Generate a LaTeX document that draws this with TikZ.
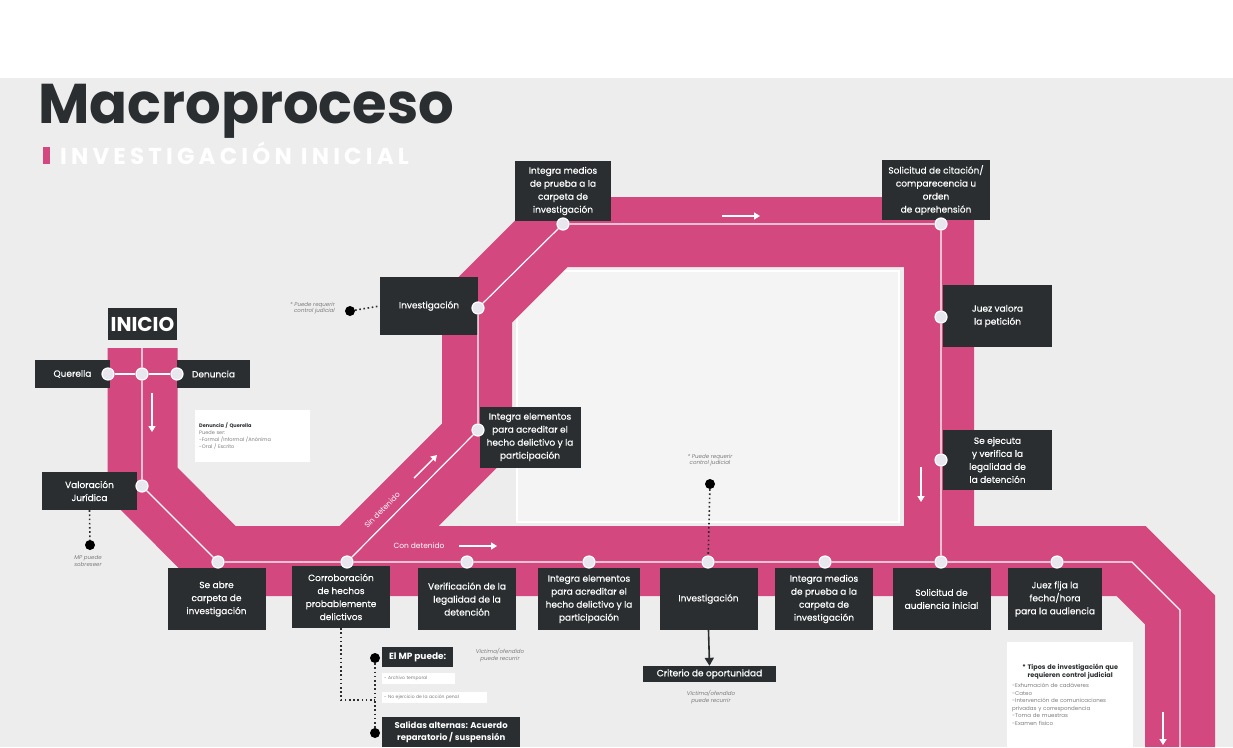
\documentclass[tikz,border=0pt]{standalone}
\usepackage{fontspec}
\setmainfont{Poppins}
\usetikzlibrary{arrows.meta}
\definecolor{rosa}{RGB}{212,72,128}
\definecolor{oscuro}{RGB}{42,46,48}
\definecolor{fondo}{RGB}{237,237,237}
\definecolor{panel}{RGB}{244,244,244}
\definecolor{punto}{RGB}{232,230,238}
\definecolor{nota}{RGB}{125,125,125}
\tikzset{
  banda/.style={draw=rosa, line width=70pt, line join=miter},
  ruta/.style={draw=white, line width=1.2pt},
  caja/.style={fill=oscuro, text=white, align=center, inner sep=1pt, font=\fontsize{9}{13}\selectfont\addfontfeature{FakeBold=0.5}},
  fila/.style={caja, minimum width=98pt, minimum height=62pt},
  parada/.style={circle, fill=punto, draw=white, line width=1.2pt, minimum size=12pt, inner sep=0pt},
  negro/.style={circle, fill=black, minimum size=10pt, inner sep=0pt},
  punteado/.style={draw=oscuro, line width=1.6pt, dash pattern=on 1.6pt off 2.6pt},
  flecha/.style={draw=white, line width=1.4pt, -{Triangle[width=7pt,length=6pt]}},
  guion/.style={font=\fontsize{5.5}{6.5}\selectfont\itshape, text=nota, inner sep=0pt},
  opcion/.style={fill=white, text=nota, font=\fontsize{4.5}{5}\selectfont, inner sep=2pt, align=left, minimum height=11pt, anchor=north west},
}
\begin{document}
\begin{tikzpicture}[x=1pt,y=-1pt]
\useasboundingbox (0,0) rectangle (1233,747);
\fill[white] (0,0) rectangle (1233,78);
\fill[fondo] (0,78) rectangle (1233,747);
% encabezado
\node[anchor=base west, inner sep=0pt, text=oscuro, font=\fontsize{56}{56}\selectfont\bfseries] (titulo) at (38,123) {Macroproceso};
\fill[rosa] (43,147) rectangle (50,164);
\node[anchor=base west, inner sep=0pt, text=white, font=\fontsize{23}{23}\selectfont\bfseries\addfontfeature{LetterSpace=18}] (subtitulo) at (60,164) {INVESTIGACIÓN INICIAL};
% recuadro interior
\filldraw[fill=panel, draw=white, line width=2.5pt] (517,271) rectangle (899,522);
% bandas
\draw[banda] (142.5,348) -- (142.5,482) -- (221,561) -- (1131,561) -- (1180,610) -- (1180,747);
\draw[banda] (354,561) -- (477,438) -- (477,308) -- (553,232) -- (939,232) -- (939,561);
% cajas de la izquierda
\node[caja, minimum width=69pt, minimum height=32pt, font=\fontsize{20}{20}\selectfont\bfseries] (inicio) at (142.5,324) {INICIO};
\node[caja, minimum width=75pt, minimum height=28pt] (querella) at (72.5,374) {Querella};
\node[caja, minimum width=73pt, minimum height=28pt] (denuncia) at (213.5,374) {Denuncia};
\node[caja, minimum width=95pt, minimum height=38pt] (valoracion) at (89.5,491) {Valoración\\Jurídica};
% fila inferior
\node[fila] (abre) at (216.5,599) {Se abre\\carpeta de\\investigación};
\node[fila] (corrob) at (341,597) {Corroboración\\de hechos\\probablemente\\delictivos};
\node[fila] (verif) at (467,599) {Verificación de la\\legalidad de la\\detención};
\node[fila, minimum width=102pt] (integraA) at (589,599) {Integra elementos\\para acreditar el\\hecho delictivo y la\\participación};
\node[fila] (investA) at (708.5,599) {Investigación};
\node[fila] (mediosA) at (824,599) {Integra medios\\de prueba a la\\carpeta de\\investigación};
\node[fila] (solicitud) at (941.5,599) {Solicitud de\\audiencia inicial};
\node[fila, minimum width=94pt] (juezfija) at (1055,599) {Juez fija la\\fecha/hora\\para la audiencia};
% lazo superior
\node[caja, minimum width=96pt, minimum height=60pt] (mediosB) at (563,191) {Integra medios\\de prueba a la\\carpeta de\\investigación};
\node[caja, minimum width=98pt, minimum height=58pt] (investB) at (429,306) {Investigación};
\node[caja, minimum width=101pt, minimum height=61pt] (integraB) at (530,437) {Integra elementos\\para acreditar el\\hecho delictivo y la\\participación};
\node[caja, minimum width=108pt, minimum height=60pt] (citacion) at (936,190) {Solicitud de citación/\\comparecencia u\\orden\\de aprehensión};
\node[caja, minimum width=109pt, minimum height=62pt] (juezvalora) at (997.5,316) {Juez valora\\la petición};
\node[caja, minimum width=109pt, minimum height=60pt] (ejecuta) at (997.5,460) {Se ejecuta\\y verifica la\\legalidad de\\la detención};
% salidas
\node[caja, minimum width=133pt, minimum height=16pt] (criterio) at (709.5,674) {Criterio de oportunidad};
\node[caja, anchor=north west, minimum width=71pt, minimum height=20pt, font=\fontsize{9}{12}\selectfont\bfseries] (mp) at (382,647) {El MP puede:};
\node[opcion, text width=69pt] (archivo) at (382,673) {- Archivo temporal};
\node[opcion, text width=101pt] (noejercicio) at (382,692) {- No ejercicio de la acción penal};
\node[caja, anchor=north west, minimum width=138pt, minimum height=30pt, font=\fontsize{8.5}{12.5}\selectfont\bfseries] (salidas) at (382,717) {Salidas alternas: Acuerdo\\reparatorio / suspensión};
% paradas
\node[parada] (dQue) at (108,374) {};
\node[parada] (dIni) at (142,374) {};
\node[parada] (dDen) at (177,374) {};
\node[parada] (dVal) at (142,486) {};
\node[parada] (dAbre) at (218,562) {};
\node[parada] (dCorr) at (347,562) {};
\node[parada] (dVer) at (467,562) {};
\node[parada] (dIntA) at (589,562) {};
\node[parada] (dInvA) at (708,562) {};
\node[parada] (dMedA) at (825,562) {};
\node[parada] (dSol) at (941,562) {};
\node[parada] (dJuez) at (1057,562) {};
\node[parada] (dIntB) at (478,430) {};
\node[parada] (dInvB) at (478,308) {};
\node[parada] (dMedB) at (563,224) {};
\node[parada] (dCit) at (941,224) {};
\node[parada] (dJval) at (941,317) {};
\node[parada] (dEje) at (941,460) {};
\coordinate (rutaIni) at (142,348);
\coordinate (codoA) at (1132,562);
\coordinate (codoB) at (1180,610);
\coordinate (rutaFin) at (1180,747);
% rutas blancas
\draw[ruta] (rutaIni) -- (dIni) -- (dVal) -- (dAbre) -- (dCorr) -- (dVer) -- (dIntA) -- (dInvA) -- (dMedA) -- (dSol) -- (dJuez) -- (codoA) -- (codoB) -- (rutaFin);
\draw[ruta] (dQue) -- (dIni) -- (dDen);
\draw[ruta] (dCorr) -- (dIntB) -- (dInvB) -- (dMedB) -- (dCit) -- (dJval) -- (dEje) -- (dSol);
% flechas de sentido
\draw[flecha] (152,393) -- (152,432);
\draw[flecha] (414,478) -- (437,455);
\draw[flecha] (459,546) -- (497,546);
\draw[flecha] (722,216) -- (760,216);
\draw[flecha] (921,467) -- (921,502);
\draw[flecha] (1163,712) -- (1163,745);
\node[rotate=45, text=white, inner sep=0pt, font=\fontsize{7.5}{8}\selectfont] (sindet) at (382,510) {Sin detenido};
\node[text=white, inner sep=0pt, font=\fontsize{7.5}{8}\selectfont] (condet) at (419,546) {Con detenido};
% notas
\node[fill=white, anchor=north west, text width=107pt, minimum height=52pt, inner sep=4pt, align=left, text=nota, font=\fontsize{5}{7}\selectfont] (notaDQ) at (195,410) {{\color{oscuro}\bfseries Denuncia / Querella}\\Puede ser:\\-Formal /Informal /Anónima\\-Oral / Escrito};
\node[fill=white, anchor=north west, text width=116pt, minimum height=105pt, inner sep=5pt, align=left, text=nota, font=\fontsize{5.5}{7.5}\selectfont] (notaTipos) at (1007,642) {{\centering\color{oscuro}\bfseries\fontsize{6.5}{8}\selectfont * Tipos de investigación que\\requieren control judicial\par}\vspace{3pt}-Exhumación de cadáveres\\-Cateo\\-Intervención de comunicaciones\\privadas y correspondencia\\-Toma de muestras\\-Examen físico};
\node[guion, align=right, anchor=east] (reqA) at (335,308) {* Puede requerir\\control judicial};
\node[guion, align=center] (reqB) at (710,460) {* Puede requerir\\control judicial};
\node[guion, align=center] (sobre) at (88,561) {MP puede\\sobreseer};
\node[guion, align=center] (victA) at (500,655) {Víctima/ofendido\\puede recurrir};
\node[guion, align=center] (victB) at (711,697) {Víctima/ofendido\\puede recurrir};
% puntos negros y punteados
\node[negro] (bVal) at (90,545) {};
\node[negro] (bInv) at (350,311) {};
\node[negro] (bInvA) at (710,484) {};
\node[negro] (bMP) at (375,658) {};
\node[negro] (bSal) at (375,733) {};
\coordinate (codoC) at (341,700);
\coordinate (codoD) at (375,700);
\draw[punteado] (valoracion.south) -- (bVal);
\draw[punteado] (bInv) -- (investB.west);
\draw[punteado] (bInvA) -- (dInvA);
\draw[punteado] (corrob.south) -- (codoC) -- (codoD);
\draw[punteado] (bMP) -- (bSal);
\draw[draw=oscuro, line width=1.6pt, -{Triangle[width=9pt,length=8pt]}] (investA.south) -- (criterio.north);
\end{tikzpicture}
\end{document}
